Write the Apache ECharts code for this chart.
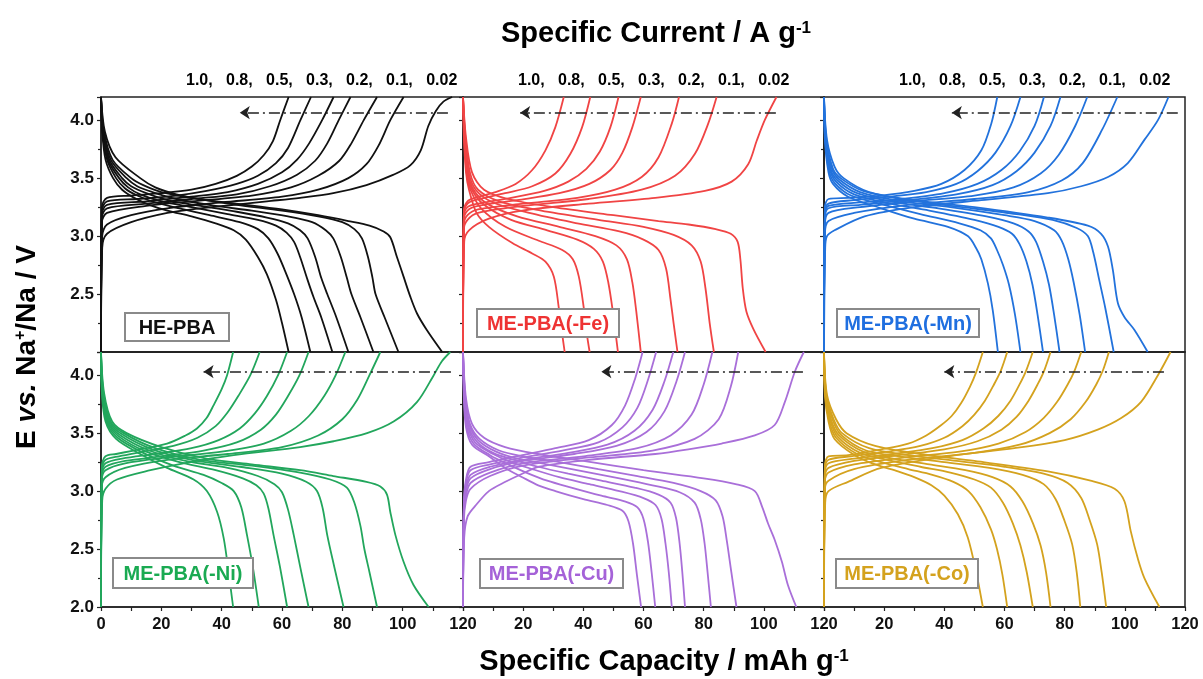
<!DOCTYPE html>
<html>
<head>
<meta charset="utf-8">
<script src="https://cdn.jsdelivr.net/npm/echarts@6/dist/echarts.min.js"></script>
<style>html,body{margin:0;padding:0;background:#fff}#c{width:1203px;height:679px}</style>
</head>
<body>
<div id="c"></div>
<script>
// ---------------- DATA ----------------
const rates = ['1.0', '0.8', '0.5', '0.3', '0.2', '0.1', '0.02'];
const panelNames = ['HE-PBA', 'ME-PBA(-Fe)', 'ME-PBA(-Mn)', 'ME-PBA(-Ni)', 'ME-PBA(-Cu)', 'ME-PBA(-Co)'];
const panelColors = ['#111111', '#F04444', '#2272DC', '#22A65C', '#A96FD9', '#D4A21E'];
const labelColors = ['#111111', '#EE3333', '#1F6FE0', '#1AAA52', '#A562D8', '#D4A21E'];
const xTicks = [0, 20, 40, 60, 80, 100, 120];
const yTicks = [2.0, 2.5, 3.0, 3.5, 4.0];
// [capacity (mAh/g), potential (V)] per rate, order: 1.0 ... 0.02 A/g
const heCharge = [
  [[0,2.0],[0.3,3.25],[2,3.33],[10,3.35],[20,3.37],[30,3.4],[38,3.45],[45,3.52],[50,3.6],[54,3.7],[57,3.82],[59.4,4.0],[62.2,4.2]],
  [[0,2.0],[0.3,3.22],[2,3.3],[12,3.32],[25,3.35],[35,3.39],[45,3.45],[52,3.52],[58,3.63],[62,3.76],[66.1,4.0],[69.6,4.2]],
  [[0,2.0],[0.3,3.19],[2,3.27],[15,3.3],[30,3.34],[42,3.38],[52,3.45],[60,3.55],[65,3.66],[69,3.8],[73.3,4.0],[77.1,4.2]],
  [[0,2.0],[0.3,3.16],[2,3.24],[15,3.28],[30,3.32],[45,3.36],[56,3.43],[65,3.53],[71,3.65],[75,3.8],[78.8,4.0],[82.7,4.2]],
  [[0,2.0],[0.3,3.12],[2,3.2],[15,3.26],[30,3.3],[50,3.35],[63,3.42],[72,3.52],[79,3.65],[83,3.8],[87.1,4.0],[91.5,4.2]],
  [[0,2.0],[0.4,3.0],[2,3.1],[10,3.18],[22,3.24],[40,3.29],[60,3.34],[72,3.4],[82,3.5],[88,3.62],[92,3.78],[95.9,4.0],[100.3,4.2]],
  [[0,2.0],[0.4,2.9],[2,3.02],[10,3.12],[22,3.2],[33,3.24],[44,3.27],[55,3.3],[66,3.33],[77,3.37],[88,3.44],[97,3.53],[102.5,3.61],[106,3.74],[108.5,3.95],[111,4.08],[113.5,4.16],[116.4,4.2]]
];
const heDischarge = [
  [[0,4.2],[0.4,3.9],[1.5,3.66],[4,3.5],[7,3.4],[11,3.33],[16,3.27],[22,3.22],[30,3.17],[38,3.11],[44,3.05],[48,2.97],[52,2.82],[55,2.67],[58,2.45],[60,2.25],[62.2,2.0]],
  [[0,4.2],[0.5,3.9],[2,3.66],[5,3.5],[8,3.41],[12,3.35],[18,3.29],[26,3.24],[36,3.18],[46,3.12],[52,3.06],[55.5,2.98],[58.5,2.85],[61,2.7],[64,2.5],[66.5,2.3],[69.4,2.0]],
  [[0,4.2],[0.6,3.9],[2.3,3.66],[6,3.5],[9,3.42],[13,3.36],[20,3.3],[30,3.25],[42,3.19],[52,3.14],[58,3.09],[61.5,3.03],[64,2.95],[66,2.82],[68.5,2.62],[70.5,2.47],[73,2.3],[76.7,2.0]],
  [[0,4.2],[0.7,3.9],[2.7,3.66],[7,3.5],[10,3.43],[15,3.37],[22,3.31],[33,3.26],[45,3.21],[55,3.16],[62,3.11],[66,3.05],[68.5,2.98],[71,2.82],[73,2.64],[75,2.5],[78,2.3],[82,2.0]],
  [[0,4.2],[0.8,3.9],[3.2,3.66],[8.5,3.5],[12,3.43],[17,3.38],[25,3.32],[38,3.26],[50,3.22],[62,3.17],[70,3.12],[74.5,3.05],[77,2.98],[79.5,2.82],[81.5,2.64],[83,2.5],[86,2.3],[90.3,2.0]],
  [[0,4.2],[1,3.9],[3.8,3.66],[10,3.5],[14,3.44],[20,3.38],[30,3.33],[45,3.27],[60,3.22],[72,3.17],[80,3.12],[84,3.06],[86.5,2.98],[88.5,2.82],[90,2.64],[91,2.5],[94,2.3],[98.6,2.0]],
  [[0,4.2],[1.3,3.9],[4.8,3.68],[13,3.5],[18,3.42],[25,3.36],[35,3.31],[48,3.27],[60,3.23],[72,3.18],[82,3.13],[89,3.09],[93.7,3.04],[95.9,2.99],[98.1,2.82],[100.3,2.65],[102.5,2.48],[104.8,2.33],[108,2.19],[113.1,2.0]]
];
const feCharge = [
  [[0,2.0],[0.3,3.22],[1.5,3.3],[4,3.33],[10.8,3.38],[17.5,3.45],[23,3.57],[27.4,3.74],[30.7,3.94],[33.5,4.2]],
  [[0,2.0],[0.3,3.2],[1.5,3.28],[4,3.31],[14,3.37],[23,3.43],[30.7,3.54],[35.7,3.71],[39.6,3.94],[42.3,4.2]],
  [[0,2.0],[0.3,3.17],[1.5,3.25],[5,3.28],[16,3.33],[27,3.39],[35,3.47],[41,3.58],[45.5,3.73],[49,3.94],[51.7,4.2]],
  [[0,2.0],[0.3,3.14],[1.5,3.22],[5,3.26],[18,3.31],[32,3.37],[42,3.45],[49,3.57],[53,3.72],[56.3,3.94],[59.1,4.2]],
  [[0,2.0],[0.3,3.1],[1.5,3.18],[5,3.23],[20,3.28],[38,3.33],[50.6,3.4],[59.4,3.51],[65,3.68],[69.4,3.97],[71.8,4.2]],
  [[0,2.0],[0.3,3.06],[1.5,3.14],[5,3.2],[20,3.26],[41.8,3.32],[59.4,3.4],[70.5,3.52],[77.1,3.71],[81.5,3.97],[84.3,4.2]],
  [[0,2.0],[0.4,2.95],[2,3.05],[8.6,3.15],[19.7,3.22],[41.8,3.28],[63.9,3.33],[80.4,3.39],[89.3,3.47],[94.8,3.62],[97.6,3.82],[100.3,4.0],[104.2,4.2]]
];
const feDischarge = [
  [[0,4.2],[0.3,3.85],[1,3.55],[2,3.4],[4.5,3.2],[8.6,3.08],[16.4,2.94],[23,2.85],[27.4,2.78],[30.2,2.65],[31.8,2.39],[33,2.15],[33.8,2.0]],
  [[0,4.2],[0.4,3.85],[1.2,3.55],[2.5,3.4],[6,3.24],[14.1,3.08],[25.2,2.96],[33,2.88],[36.5,2.8],[38.5,2.65],[40.1,2.39],[41.2,2.15],[42.1,2.0]],
  [[0,4.2],[0.5,3.85],[1.4,3.55],[3,3.4],[7,3.27],[16,3.14],[28,3.05],[38,2.97],[43.5,2.89],[46.5,2.78],[48.3,2.6],[49.8,2.35],[51.5,2.0]],
  [[0,4.2],[0.6,3.85],[1.6,3.55],[3.5,3.4],[8,3.28],[18,3.17],[32,3.08],[44,3.0],[51,2.92],[54.5,2.8],[56.3,2.6],[57.6,2.35],[59.1,2.0]],
  [[0,4.2],[0.7,3.85],[1.9,3.55],[4.2,3.4],[10,3.29],[22,3.2],[38,3.11],[52,3.04],[60,2.97],[65,2.88],[67.5,2.72],[69,2.45],[70,2.25],[71.3,2.0]],
  [[0,4.2],[0.8,3.85],[2.3,3.55],[5,3.4],[12,3.3],[26,3.22],[45,3.14],[60,3.08],[70,3.01],[76,2.92],[79,2.78],[80.6,2.55],[82,2.25],[83.4,2.0]],
  [[0,4.2],[1,3.85],[3,3.55],[7,3.4],[15,3.32],[30,3.25],[50,3.18],[65,3.13],[75,3.1],[84,3.06],[89,3.02],[91.3,2.95],[92.2,2.8],[93,2.55],[94.2,2.35],[96.5,2.2],[100.6,2.0]]
];
const mnCharge = [
  [[0,2.0],[0.3,3.25],[1.5,3.32],[8,3.33],[19,3.35],[30,3.39],[39,3.45],[46.7,3.57],[52.3,3.74],[55.6,3.97],[57.6,4.2]],
  [[0,2.0],[0.3,3.2],[1.5,3.28],[10,3.31],[22,3.34],[34,3.38],[44,3.45],[51,3.56],[57,3.72],[62,3.95],[65.3,4.2]],
  [[0,2.0],[0.3,3.18],[1.5,3.26],[12,3.29],[26,3.32],[40,3.37],[51,3.45],[59,3.57],[65,3.73],[70,3.95],[73.1,4.2]],
  [[0,2.0],[0.3,3.15],[1.5,3.24],[12,3.27],[28,3.31],[44,3.36],[56,3.44],[64,3.56],[70,3.72],[75.3,3.95],[78.6,4.2]],
  [[0,2.0],[0.3,3.1],[1.5,3.2],[12,3.25],[30,3.3],[50,3.35],[63,3.42],[72,3.54],[78,3.7],[83.5,3.95],[87.5,4.2]],
  [[0,2.0],[0.3,3.02],[1.5,3.13],[10,3.2],[28,3.27],[50,3.32],[68,3.38],[79,3.48],[86,3.63],[92.5,3.92],[97.5,4.2]],
  [[0,2.0],[0.4,2.9],[1,3.0],[3.5,3.05],[13.5,3.17],[30,3.25],[52.3,3.31],[74.4,3.37],[85.5,3.43],[94.4,3.51],[101,3.63],[106.5,3.83],[111,4.0],[114.5,4.2]]
];
const mnDischarge = [
  [[0,4.2],[0.3,3.83],[1.5,3.55],[3,3.45],[8,3.34],[19,3.24],[30,3.15],[41.2,3.08],[47.8,3.0],[50.5,2.9],[52.3,2.8],[54.5,2.59],[56.1,2.36],[57.8,2.0]],
  [[0,4.2],[0.4,3.83],[1.7,3.56],[3.5,3.46],[9,3.35],[20,3.27],[32,3.19],[45,3.11],[52,3.05],[55.5,2.98],[57.5,2.88],[59.5,2.75],[61.5,2.58],[63.5,2.32],[65.3,2.0]],
  [[0,4.2],[0.5,3.83],[2,3.57],[4,3.47],[10,3.36],[22,3.28],[35,3.22],[50,3.14],[58,3.08],[62.5,3.02],[65,2.93],[67.3,2.78],[69.3,2.58],[71,2.32],[72.8,2.0]],
  [[0,4.2],[0.6,3.83],[2.3,3.57],[4.5,3.48],[11,3.37],[24,3.29],[38,3.24],[54,3.17],[63,3.11],[68,3.04],[70.5,2.95],[72.8,2.78],[74.8,2.58],[76.5,2.32],[78.3,2.0]],
  [[0,4.2],[0.7,3.83],[2.6,3.58],[5,3.49],[12,3.38],[26,3.3],[42,3.25],[60,3.18],[70,3.13],[76.5,3.05],[79,2.96],[81.2,2.8],[83,2.6],[85,2.32],[86.8,2.0]],
  [[0,4.2],[0.8,3.83],[3,3.58],[5.5,3.5],[13,3.39],[28,3.31],[46,3.25],[64,3.19],[76,3.14],[84,3.07],[87.7,3.0],[89.5,2.86],[91.5,2.62],[93.5,2.38],[96.3,2.0]],
  [[0,4.2],[1,3.83],[3.5,3.6],[6.5,3.5],[15,3.38],[30,3.31],[50,3.25],[74.4,3.16],[87.7,3.09],[92.1,3.02],[94.4,2.91],[96,2.71],[97.7,2.42],[99.9,2.3],[103.2,2.19],[107.6,2.0]]
];
const niCharge = [
  [[0,2.0],[0.3,3.22],[1.5,3.3],[5,3.32],[10.8,3.35],[21.9,3.41],[28,3.48],[31.8,3.54],[35,3.63],[37.3,3.74],[40,3.88],[41.8,4.0],[43.8,4.2]],
  [[0,2.0],[0.3,3.2],[1.5,3.27],[6,3.3],[14,3.34],[24,3.39],[32,3.46],[38,3.56],[42,3.68],[45.5,3.82],[49.5,4.0],[52.6,4.2]],
  [[0,2.0],[0.3,3.17],[1.5,3.24],[7,3.28],[18,3.32],[30,3.37],[39,3.44],[46,3.54],[51,3.67],[55,3.82],[58.7,4.0],[61.7,4.2]],
  [[0,2.0],[0.3,3.14],[1.5,3.21],[8,3.26],[20,3.3],[34,3.35],[45,3.42],[53,3.53],[58,3.66],[62,3.82],[65.8,4.0],[68.8,4.2]],
  [[0,2.0],[0.3,3.1],[1.5,3.18],[8,3.24],[22,3.29],[40,3.34],[54,3.41],[63,3.52],[69,3.65],[74,3.82],[77.8,4.0],[81,4.2]],
  [[0,2.0],[0.3,3.04],[1.5,3.12],[8,3.2],[22,3.27],[42,3.32],[60,3.38],[72,3.48],[80,3.62],[85,3.79],[89,4.0],[92.6,4.2]],
  [[0,2.0],[0.4,2.92],[1.5,3.02],[5.3,3.1],[16.4,3.18],[27.4,3.24],[44,3.31],[66,3.38],[77.1,3.43],[88.2,3.5],[97,3.6],[104.8,3.77],[110.3,4.0],[113,4.12],[115.8,4.2]]
];
const niDischarge = [
  [[0,4.2],[0.3,3.85],[1.5,3.6],[5,3.45],[13,3.32],[21.9,3.2],[30.7,3.1],[35.1,3.0],[38.5,2.82],[40.7,2.59],[42.3,2.3],[43.8,2.0]],
  [[0,4.2],[0.4,3.85],[1.8,3.6],[5.5,3.46],[14,3.33],[24,3.22],[34,3.14],[40,3.07],[44,3.0],[46.5,2.86],[48.4,2.62],[50.3,2.35],[52.3,2.0]],
  [[0,4.2],[0.5,3.85],[2.1,3.6],[6,3.47],[15,3.34],[26,3.25],[38,3.18],[47,3.11],[51.5,3.05],[53.9,2.98],[55.5,2.85],[57.2,2.62],[59.3,2.35],[61.7,2.0]],
  [[0,4.2],[0.6,3.85],[2.4,3.6],[6.5,3.48],[16,3.35],[28,3.26],[42,3.2],[52,3.13],[57.5,3.06],[60,2.99],[62,2.84],[63.9,2.62],[66,2.35],[68.8,2.0]],
  [[0,4.2],[0.7,3.85],[2.8,3.6],[7,3.49],[17,3.36],[30,3.27],[46,3.21],[60,3.15],[68,3.08],[71.6,3.0],[73.5,2.85],[75,2.62],[77.3,2.35],[80.4,2.0]],
  [[0,4.2],[0.8,3.85],[3.2,3.6],[7.5,3.5],[18,3.37],[33,3.27],[50,3.22],[66,3.16],[76,3.1],[81.5,3.03],[84,2.9],[86,2.7],[87.3,2.5],[89,2.3],[91.5,2.0]],
  [[0,4.2],[1,3.85],[3.7,3.6],[8.5,3.5],[20,3.38],[35,3.28],[50,3.23],[66,3.18],[77,3.13],[88,3.08],[92.6,3.04],[94.8,2.97],[95.9,2.82],[97.6,2.62],[100.3,2.39],[103.6,2.19],[108.6,2.0]]
];
const cuCharge = [
  [[0,2.0],[0.3,2.9],[1,3.1],[2.5,3.21],[8.6,3.25],[19.7,3.31],[30.7,3.37],[41.8,3.44],[49.5,3.57],[53.9,3.74],[57.2,3.97],[59.7,4.2]],
  [[0,2.0],[0.3,2.88],[1,3.07],[2.5,3.18],[9,3.23],[20,3.29],[33,3.35],[45,3.42],[53,3.55],[58,3.72],[61.5,3.96],[64.2,4.2]],
  [[0,2.0],[0.3,2.85],[1,3.03],[2.5,3.14],[9,3.21],[20,3.27],[35,3.33],[48,3.4],[57,3.52],[63,3.7],[67,3.95],[69.9,4.2]],
  [[0,2.0],[0.3,2.82],[1,3.0],[2.5,3.11],[9,3.19],[20,3.26],[37,3.32],[51,3.39],[61,3.51],[67,3.69],[71,3.95],[73.8,4.2]],
  [[0,2.0],[0.3,2.8],[1,2.96],[2.5,3.07],[9,3.16],[20,3.24],[40,3.3],[58,3.37],[69,3.48],[76,3.66],[80,3.92],[82.9,4.2]],
  [[0,2.0],[0.3,2.75],[1,2.92],[2.5,3.02],[9,3.13],[20,3.22],[42,3.29],[63,3.35],[77,3.45],[85,3.62],[89,3.9],[91.5,4.2]],
  [[0,2.0],[0.4,2.6],[1.5,2.78],[4,2.87],[8.6,3.0],[14.1,3.08],[19.7,3.15],[25.2,3.21],[41.8,3.27],[63.9,3.32],[74.9,3.36],[86,3.41],[97,3.48],[103.6,3.57],[107,3.77],[110.3,4.03],[113.3,4.2]]
];
const cuDischarge = [
  [[0,4.2],[0.3,3.8],[1,3.55],[3,3.4],[8.6,3.3],[14,3.2],[19.7,3.12],[25,3.05],[30.7,3.0],[40,2.93],[48,2.88],[53,2.83],[55,2.74],[56.5,2.55],[57.8,2.28],[59.2,2.0]],
  [[0,4.2],[0.4,3.8],[1.2,3.56],[3.5,3.41],[9,3.31],[15,3.23],[21,3.16],[28,3.09],[36,3.03],[46,2.96],[54,2.91],[58,2.86],[60,2.76],[61.5,2.56],[62.7,2.3],[63.9,2.0]],
  [[0,4.2],[0.5,3.8],[1.5,3.57],[4,3.42],[10,3.32],[16,3.25],[23,3.19],[32,3.12],[42,3.06],[52,3.0],[60,2.94],[64,2.88],[66,2.76],[67.3,2.55],[68.4,2.3],[69.4,2.0]],
  [[0,4.2],[0.6,3.8],[1.7,3.57],[4.5,3.43],[10,3.33],[17,3.27],[25,3.21],[35,3.15],[46,3.09],[57,3.03],[65,2.97],[69,2.9],[70.8,2.77],[72,2.55],[72.9,2.3],[73.8,2.0]],
  [[0,4.2],[0.7,3.8],[2,3.58],[5,3.44],[11,3.34],[18,3.28],[28,3.23],[40,3.17],[52,3.11],[63,3.05],[72,2.99],[77,2.9],[79,2.76],[80.3,2.55],[81.3,2.3],[82.4,2.0]],
  [[0,4.2],[0.8,3.8],[2.3,3.58],[5.5,3.45],[12,3.35],[20,3.3],[32,3.25],[45,3.19],[58,3.13],[70,3.07],[79,3.0],[84,2.92],[86.3,2.78],[87.7,2.57],[89.2,2.3],[90.9,2.0]],
  [[0,4.2],[1,3.8],[3,3.58],[7,3.46],[14,3.38],[25,3.32],[40,3.26],[60,3.18],[80,3.11],[90.6,3.06],[97,3.0],[99.5,2.86],[101.4,2.72],[103.6,2.58],[106,2.39],[108,2.19],[110.8,2.0]]
];
const coCharge = [
  [[0,2.0],[0.3,3.22],[1.5,3.3],[8,3.31],[19,3.36],[28,3.41],[34,3.48],[39,3.57],[42.5,3.65],[45.6,3.76],[48.5,3.9],[50.5,4.02],[52.8,4.2]],
  [[0,2.0],[0.3,3.2],[1.5,3.27],[9,3.3],[21,3.34],[32,3.39],[40,3.46],[46,3.56],[50,3.66],[53.5,3.78],[56.5,3.92],[58.8,4.04],[60.9,4.2]],
  [[0,2.0],[0.3,3.17],[1.5,3.24],[10,3.28],[23,3.32],[36,3.37],[46,3.44],[53,3.54],[58,3.65],[62,3.78],[65,3.92],[67.2,4.04],[69.4,4.2]],
  [[0,2.0],[0.3,3.13],[1.5,3.2],[10,3.26],[25,3.31],[40,3.36],[51,3.43],[59,3.53],[64,3.64],[68,3.78],[71,3.92],[73.2,4.04],[75.3,4.2]],
  [[0,2.0],[0.3,3.09],[1.5,3.16],[10,3.23],[27,3.29],[45,3.34],[58,3.41],[67,3.51],[73,3.63],[77.5,3.77],[81,3.92],[83.3,4.04],[85.5,4.2]],
  [[0,2.0],[0.3,3.02],[1.5,3.09],[10,3.19],[28,3.27],[50,3.33],[65,3.4],[75,3.5],[82,3.62],[87,3.77],[90.5,3.92],[92.7,4.04],[94.7,4.2]],
  [[0,2.0],[0.4,2.9],[1.5,3.0],[8,3.08],[19,3.2],[41.2,3.3],[63.3,3.37],[80,3.44],[91,3.53],[98.8,3.63],[105.4,3.77],[111,4.0],[115.2,4.2]]
];
const coDischarge = [
  [[0,4.2],[0.3,3.83],[1.5,3.6],[3.5,3.45],[10.2,3.31],[17,3.23],[24.6,3.17],[30,3.12],[35.7,3.05],[40,2.96],[44.5,2.8],[47.8,2.6],[50.6,2.3],[52.8,2.0]],
  [[0,4.2],[0.4,3.83],[1.8,3.6],[4,3.46],[11,3.32],[19,3.25],[28,3.19],[36,3.14],[43,3.08],[48,3.0],[52,2.86],[55.5,2.67],[57.5,2.5],[59.3,2.28],[60.9,2.0]],
  [[0,4.2],[0.5,3.83],[2.1,3.61],[4.5,3.47],[12,3.33],[21,3.27],[32,3.21],[42,3.16],[50,3.1],[55.5,3.03],[59.5,2.9],[62.8,2.72],[65.3,2.53],[67.4,2.3],[69.4,2.0]],
  [[0,4.2],[0.6,3.83],[2.4,3.61],[5,3.48],[13,3.34],[23,3.28],[35,3.23],[47,3.18],[56,3.12],[62,3.04],[66,2.91],[69.5,2.72],[72,2.53],[73.8,2.3],[75.3,2.0]],
  [[0,4.2],[0.7,3.83],[2.8,3.62],[5.5,3.49],[14,3.35],[25,3.3],[40,3.25],[55,3.2],[66,3.14],[73,3.06],[77,2.93],[80,2.74],[82.5,2.54],[84,2.3],[85.2,2.0]],
  [[0,4.2],[0.8,3.83],[3.2,3.62],[6,3.5],[15,3.37],[28,3.31],[44,3.26],[60,3.21],[73,3.15],[81,3.07],[85.5,2.94],[88.3,2.75],[90.8,2.54],[92.3,2.3],[93.8,2.0]],
  [[0,4.2],[1,3.83],[4,3.62],[7.5,3.5],[17,3.39],[32,3.32],[50,3.26],[74.4,3.17],[88.6,3.09],[96.6,3.02],[99.9,2.91],[102,2.65],[104.3,2.42],[106.5,2.25],[111.5,2.0]]
];
// arrow annotation (data coords): [from capacity, to capacity], potential
const arrowFrom = [115, 104, 117.6, 116, 113, 113];
const arrowTo = [46, 19, 42.5, 34, 46, 40];
const arrowV = [4.065, 4.065, 4.065, 4.03, 4.03, 4.03];

const chargeSets = [heCharge, feCharge, mnCharge, niCharge, cuCharge, coCharge];
const dischargeSets = [heDischarge, feDischarge, mnDischarge, niDischarge, cuDischarge, coDischarge];

// ---------------- LAYOUT ----------------
const FONT = '"Liberation Sans", Arial, Helvetica, sans-serif';
const colX = [[101, 463], [463, 824], [824, 1185]];
const rowY = [[97, 352], [352, 607]];
const boxes = [
  [125, 313, 104, 28], [477, 309, 142, 28], [837, 309, 142, 28],
  [113, 558, 140, 30], [480, 559, 143, 29], [836, 559, 142, 29]
];
const rateLabelX = [186, 518, 899];

const grids = [], xAxes = [], yAxes = [], series = [];
for (let i = 0; i < 6; i++) {
  const row = i < 3 ? 0 : 1, col = i % 3;
  grids.push({
    left: colX[col][0], top: rowY[row][0],
    width: colX[col][1] - colX[col][0], height: rowY[row][1] - rowY[row][0],
    show: true, borderColor: '#222', borderWidth: 1.5, backgroundColor: 'transparent'
  });
  xAxes.push({
    gridIndex: i, type: 'value', min: xTicks[0], max: xTicks[xTicks.length - 1], interval: 20,
    axisLine: { show: true, onZero: false, lineStyle: { color: '#222', width: 1.5 } },
    axisTick: { show: row === 1, length: 4, lineStyle: { color: '#222', width: 1.2 } },
    minorTick: { show: row === 1, splitNumber: 2, length: 4, lineStyle: { color: '#222', width: 1.2 } },
    splitLine: { show: false },
    axisLabel: {
      show: row === 1, fontSize: 16.5, fontWeight: 'bold', color: '#111', fontFamily: FONT, margin: 9,
      formatter: v => (col > 0 && v === 0) ? '' : String(v)
    }
  });
  yAxes.push({
    gridIndex: i, type: 'value', min: yTicks[0], max: 4.2, interval: 0.5,
    axisLine: { show: true, onZero: false, lineStyle: { color: '#222', width: 1.5 } },
    axisTick: { show: true, length: 4, lineStyle: { color: '#222', width: 1.2 } },
    minorTick: { show: true, splitNumber: 2, length: 3, lineStyle: { color: '#222', width: 1.2 } },
    splitLine: { show: false },
    axisLabel: {
      show: col === 0, fontSize: 17, fontWeight: 'bold', color: '#111', fontFamily: FONT, margin: 7,
      formatter: v => (v > 4.1 || (row === 0 && v < 2.1)) ? '' : v.toFixed(1)
    }
  });
  const color = panelColors[i];
  for (let r = 0; r < rates.length; r++) {
    [chargeSets[i][r], dischargeSets[i][r]].forEach((curve, k) => {
      series.push({
        type: 'line', name: rates[r] + (k ? ' dis' : ' ch'), xAxisIndex: i, yAxisIndex: i,
        data: curve, showSymbol: false, symbol: 'none', smooth: 0.3,
        lineStyle: { color: color, width: 1.8 }, silent: true, z: 2
      });
    });
  }
  series.push({
    type: 'line', xAxisIndex: i, yAxisIndex: i, data: [[arrowTo[i], arrowV[i]]], showSymbol: false,
    lineStyle: { width: 0 }, silent: true, z: 3,
    markLine: {
      silent: true, symbol: ['none', 'arrow'], symbolSize: 10, label: { show: false },
      lineStyle: { type: [11, 4, 2, 4], color: '#222', width: 1.5 },
      data: [[
        { coord: [arrowFrom[i], arrowV[i]], symbol: 'none' },
        { coord: [arrowTo[i], arrowV[i]], symbol: 'arrow', symbolSize: 10 }
      ]]
    }
  });
}

const graphics = [];
// title
graphics.push({
  type: 'text', x: 656, y: 34, z: 10,
  style: {
    text: '{a|Specific Current / A g}{s|-1}', align: 'center', verticalAlign: 'middle',
    rich: {
      a: { fontSize: 29, fontWeight: 'bold', fontFamily: FONT, fill: '#000' },
      s: { fontSize: 17, fontWeight: 'bold', fontFamily: FONT, fill: '#000', verticalAlign: 'top' }
    }
  }
});
// x title
graphics.push({
  type: 'text', x: 664, y: 662, z: 10,
  style: {
    text: '{a|Specific Capacity / mAh g}{s|-1}', align: 'center', verticalAlign: 'middle',
    rich: {
      a: { fontSize: 29, fontWeight: 'bold', fontFamily: FONT, fill: '#000' },
      s: { fontSize: 17, fontWeight: 'bold', fontFamily: FONT, fill: '#000', verticalAlign: 'top' }
    }
  }
});
// y title
graphics.push({
  type: 'text', x: 27, y: 347, rotation: Math.PI / 2, z: 10,
  style: {
    text: '{a|E }{i|vs.}{a| Na}{s|+}{a|/Na / V}', align: 'center', verticalAlign: 'middle',
    rich: {
      a: { fontSize: 28, fontWeight: 'bold', fontFamily: FONT, fill: '#000' },
      i: { fontSize: 28, fontWeight: 'bold', fontStyle: 'italic', fontFamily: FONT, fill: '#000' },
      s: { fontSize: 16, fontWeight: 'bold', fontFamily: FONT, fill: '#000', verticalAlign: 'top' }
    }
  }
});
// rate labels
for (let c = 0; c < 3; c++) {
  graphics.push({
    type: 'text', x: rateLabelX[c], y: 81, z: 10,
    style: {
      text: rates.join(',   '), align: 'left', verticalAlign: 'middle',
      fontSize: 16, fontWeight: 'bold', fontFamily: FONT, fill: '#000'
    }
  });
}
// panel name boxes
for (let i = 0; i < 6; i++) {
  const b = boxes[i];
  graphics.push({
    type: 'rect', z: 20, shape: { x: b[0], y: b[1], width: b[2], height: b[3] },
    style: { fill: '#fff', stroke: '#8a8a8a', lineWidth: 2 }
  });
  graphics.push({
    type: 'text', z: 21, x: b[0] + b[2] / 2, y: b[1] + b[3] / 2 + 1,
    style: {
      text: panelNames[i], align: 'center', verticalAlign: 'middle',
      fontSize: 20, fontWeight: 'bold', fontFamily: FONT, fill: labelColors[i]
    }
  });
}

const chart = echarts.init(document.getElementById('c'), null, { renderer: 'canvas' });
chart.setOption({
  backgroundColor: '#fff',
  animation: false,
  grid: grids, xAxis: xAxes, yAxis: yAxes, series: series,
  graphic: graphics
});
</script>
</body>
</html>
